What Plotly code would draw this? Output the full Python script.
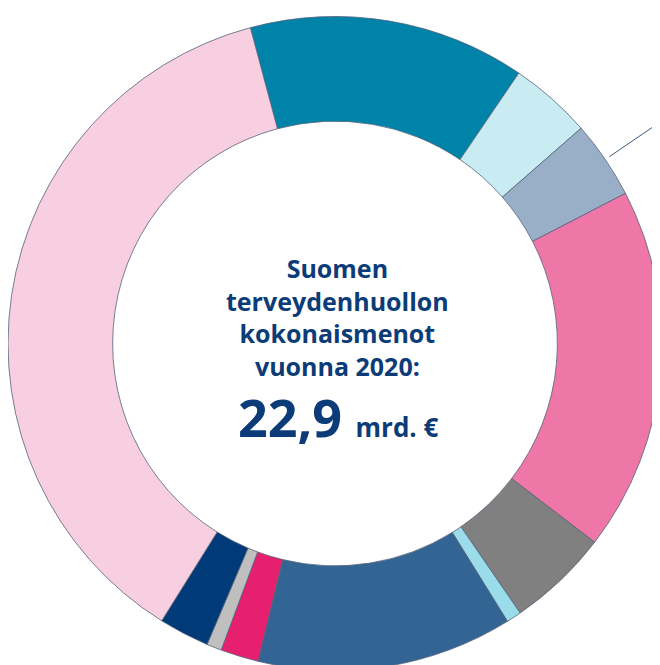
import math
import plotly.graph_objects as go

# Data (billion €; total 22.9)
categories = ["Luokka 1", "Luokka 2", "Luokka 3", "Luokka 4", "Luokka 5", "Luokka 6",
              "Luokka 7", "Luokka 8", "Luokka 9", "Luokka 10", "Luokka 11"]
values = [3.13, 0.93, 0.88, 4.12, 1.15, 0.17, 2.89, 0.43, 0.17, 0.57, 8.46]
colors = ["#0083a9", "#c9ebf2", "#99afc8", "#ee77a7", "#808080", "#9adcea",
          "#336594", "#e61f6e", "#bfbfbf", "#003a78", "#f8cfe1"]
total_label = "22,9"
unit_label = "mrd. €"
title_lines = ["Suomen", "terveydenhuollon", "kokonaismenot", "vuonna 2020:"]
start_angle = -15.0  # degrees clockwise from 12 o'clock
leader_index = 2

# figure size (page body margin of 8px shifts the figure; compensate)
FW, FH = 660, 690
OFF = 8
# wanted geometry in page pixels
cx, cy, R = 335.0, 343.5, 327.0
hole = 0.68


def px(x):
    return (x - OFF) / FW


def py(y):
    return 1 - (y - OFF) / FH


dom_x = [px(cx - R), px(cx + R)]
dom_y = [py(cy + R), py(cy - R)]

fig = go.Figure(go.Pie(
    labels=categories,
    values=values,
    marker=dict(colors=colors, line=dict(color="#56627a", width=0.8)),
    hole=hole,
    sort=False,
    direction="clockwise",
    rotation=start_angle,
    textinfo="none",
    hoverinfo="label+value",
    showlegend=False,
    domain=dict(x=dom_x, y=dom_y),
))

# leader line from middle of slice `leader_index`, radial outward
tot = sum(values)
cum = sum(values[:leader_index]) + values[leader_index] / 2
ang = math.radians(start_angle + 360 * cum / tot)
r0, r1 = R * 1.015, R * 1.3
x0p, y0p = cx + r0 * math.sin(ang), cy - r0 * math.cos(ang)
x1p, y1p = cx + r1 * math.sin(ang), cy - r1 * math.cos(ang)
fig.add_shape(type="line", xref="paper", yref="paper",
              x0=px(x0p), y0=py(y0p), x1=px(x1p), y1=py(y1p),
              line=dict(color="#3f5878", width=1))

txt_color = "#0b3c78"
font_family = "Open Sans, Noto Sans, sans-serif"
fig.add_annotation(text="<br>".join("<b>" + t + "</b>" for t in title_lines),
                   x=px(337), y=py(317), xref="paper", yref="paper",
                   showarrow=False, xanchor="center", yanchor="middle",
                   align="center",
                   font=dict(family=font_family, size=25, color=txt_color))

fig.add_annotation(text="<b>" + total_label + "</b> <b><span style='font-size:26px'>"
                   + unit_label + "</span></b>",
                   x=px(339), y=py(416), xref="paper", yref="paper",
                   showarrow=False, xanchor="center", yanchor="middle",
                   font=dict(family=font_family, size=52, color=txt_color))

fig.update_layout(width=FW, height=FH, margin=dict(l=0, r=0, t=0, b=0),
                  paper_bgcolor="white", plot_bgcolor="white")

fig.write_html("out.html")
